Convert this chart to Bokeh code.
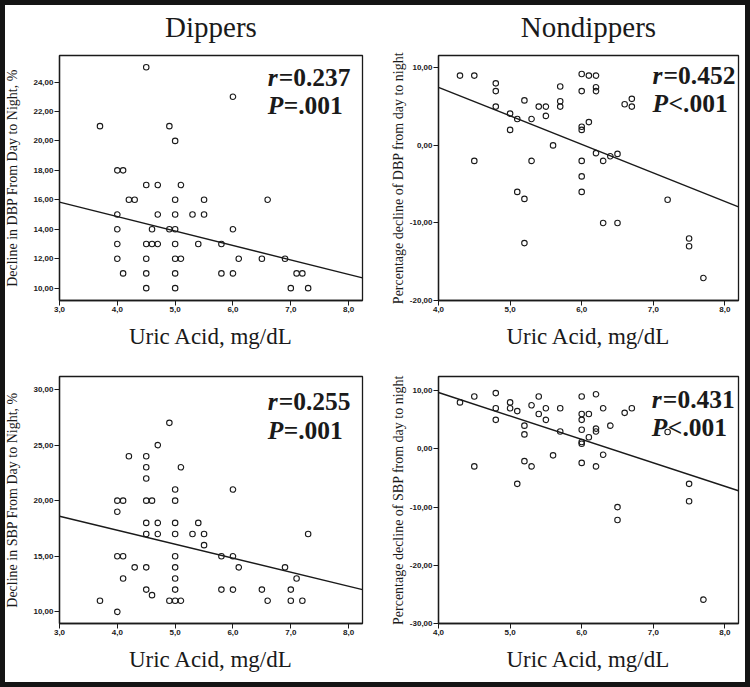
from bokeh.plotting import figure
from bokeh.layouts import gridplot
from bokeh.models import Range1d, FixedTicker, CustomJSTickFormatter, Label, Title
from bokeh.embed import file_html
from bokeh.resources import INLINE

# ---------------- data ----------------
col_titles = ["Dippers", "Nondippers"]
x_title = "Uric Acid, mg/dL"

# Dippers, DBP decline
dip_dbp_ua = [4.5, 6.0, 3.7, 4.9, 5.0, 4.0, 4.1, 4.5, 4.7, 5.1, 4.2, 4.3, 5.0, 5.5, 6.6,
              4.0, 4.7, 5.0, 5.3, 5.5, 4.0, 4.6, 4.9, 5.0, 6.0, 4.0, 4.5, 4.6, 4.7, 5.0,
              5.4, 5.8, 4.0, 4.5, 5.0, 5.1, 6.1, 6.5, 6.9, 4.1, 4.5, 5.0, 5.8, 6.0, 7.1,
              7.2, 4.5, 5.0, 7.0, 7.3]
dip_dbp = [25, 23, 21, 21, 20, 18, 18, 17, 17, 17, 16, 16, 16, 16, 16,
           15, 15, 15, 15, 15, 14, 14, 14, 14, 14, 13, 13, 13, 13, 13,
           13, 13, 12, 12, 12, 12, 12, 12, 12, 11, 11, 11, 11, 11, 11,
           11, 10, 10, 10, 10]

# Nondippers, DBP decline
non_dbp_ua = [4.3, 4.5, 4.5, 4.8, 4.8, 4.8, 5.0, 5.1, 5.0, 5.2, 5.3, 5.4, 5.5, 5.5, 5.7,
              5.7, 5.7, 5.6, 5.3, 5.1, 5.2, 5.2, 6.0, 6.1, 6.2, 6.0, 6.2, 6.2, 6.0, 6.0,
              6.1, 6.0, 6.0, 6.0, 6.2, 6.3, 6.4, 6.5, 6.3, 6.5, 6.6, 6.7, 6.7, 7.2, 7.5,
              7.5, 7.7]
non_dbp = [9.0, 9.0, -2.0, 8.0, 7.0, 5.0, 4.1, 3.4, 2.0, 5.8, 3.4, 5.0, 5.0, 3.8, 7.6,
           5.7, 5.0, 0.0, -2.0, -6.0, -6.9, -12.6, 9.2, 9.0, 9.0, 7.0, 7.5, 7.0, 2.4, 2.0,
           3.0, -2.0, -4.0, -6.0, -1.0, -2.0, -1.4, -1.1, -10.0, -10.0, 5.3, 6.0, 5.0, -7.0, -12.0,
           -13.0, -17.1]

# Dippers, SBP decline
dip_sbp_ua = [4.9, 4.7, 4.2, 4.5, 4.5, 5.1, 4.5, 5.0, 6.0, 4.0, 4.1, 4.5, 4.6, 5.0, 4.0,
              4.5, 4.7, 5.0, 5.4, 4.5, 4.7, 5.0, 5.3, 5.5, 7.3, 5.5, 4.0, 4.1, 5.0, 5.8,
              6.0, 4.3, 4.5, 5.0, 6.1, 6.9, 4.1, 5.0, 7.1, 4.5, 5.0, 5.8, 6.0, 6.5, 7.0,
              4.6, 3.7, 4.9, 5.0, 5.1, 6.6, 7.0, 7.2, 4.0]
dip_sbp = [27, 25, 24, 24, 23, 23, 22, 21, 21, 20, 20, 20, 20, 20, 19,
           18, 18, 18, 18, 17, 17, 17, 17, 17, 17, 16, 15, 15, 15, 15,
           15, 14, 14, 14, 14, 14, 13, 13, 13, 12, 12, 12, 12, 12, 12,
           11.5, 11, 11, 11, 11, 11, 11, 11, 10]

# Nondippers, SBP decline
non_sbp_ua = [4.3, 4.5, 4.5, 4.8, 4.8, 4.8, 5.0, 5.0, 5.1, 5.2, 5.2, 5.2, 5.1, 5.3, 5.3,
              5.4, 5.4, 5.5, 5.5, 5.6, 5.7, 5.7, 6.0, 6.0, 6.0, 6.0, 6.0, 6.0, 6.0, 6.1,
              6.1, 6.2, 6.2, 6.2, 6.2, 6.3, 6.3, 6.4, 6.5, 6.5, 6.6, 6.7, 7.2, 7.5, 7.5,
              7.7]
non_sbp = [8.0, 9.0, -3.0, 9.6, 7.0, 5.0, 8.0, 7.0, 6.5, 4.0, 2.5, -2.1, -6.0, 7.5, -3.0,
           9.0, 6.0, 7.0, 5.0, -1.1, 7.0, 3.0, 9.0, 6.0, 5.0, 3.3, 1.2, 0.9, -2.4, 6.0,
           2.0, 9.4, 3.5, 3.0, -3.0, 7.0, -1.0, 4.0, -10.0, -12.2, 6.2, 7.0, 2.9, -6.0, -9.0,
           -25.9]

# fitted regression lines (intercept, slope) as drawn in the figure
fit_dip_dbp = (18.78, -0.981)
fit_non_dbp = (22.21, -3.68)
fit_dip_sbp = (22.38, -1.26)
fit_non_sbp = (25.82, -4.03)

stats_r = ["=0.237", "=0.452", "=0.255", "=0.431"]
stats_p = ["=.001", "<.001", "=.001", "<.001"]

ylabels = ["Decline in DBP From Day to Night, %",
           "Percentage decline of DBP from day to night",
           "Decline in SBP From Day to Night, %",
           "Percentage decline of SBP from day to night"]

xticks_dip = [3, 4, 5, 6, 7, 8]
xticks_non = [4, 5, 6, 7, 8]
yticks = [[10, 12, 14, 16, 18, 20, 22, 24], [-20, -10, 0, 10],
          [10, 15, 20, 25, 30], [-30, -20, -10, 0, 10]]

# ---------------- styling ----------------
INK = "#1a1a1a"
SERIF = "Liberation Serif"
SANS = "Liberation Sans"


def panel(xs, ys, fit, xr, yr, xt, yt, ylab, rtxt, ptxt, lab_x, lab_yr, lab_yp,
          title, w, h, bl, br, bt, bb, ylab_standoff):
    p = figure(width=w, height=h, x_range=Range1d(*xr), y_range=Range1d(*yr),
               output_backend="svg", toolbar_location=None,
               min_border_left=bl, min_border_right=br, min_border_top=bt, min_border_bottom=bb)
    if title:
        # small spacer next to the frame, then the column heading above it
        p.add_layout(Title(text=" ", text_font_size="5px", standoff=0), "above")
        p.add_layout(Title(text=title, text_font=SERIF, text_font_size="29px",
                           text_font_style="normal", text_color=INK, align="center"), "above")
    p.xgrid.visible = False
    p.ygrid.visible = False
    p.background_fill_color = "white"
    p.border_fill_color = None
    p.outline_line_color = INK
    p.outline_line_width = 1.3
    p.outline_line_alpha = 1.0

    p.xaxis.ticker = FixedTicker(ticks=xt)
    p.yaxis.ticker = FixedTicker(ticks=yt)
    p.xaxis.formatter = CustomJSTickFormatter(code="return tick.toFixed(1).replace('.', ',');")
    p.yaxis.formatter = CustomJSTickFormatter(code="return tick.toFixed(2).replace('.', ',');")
    for ax in (p.xaxis[0], p.yaxis[0]):
        ax.axis_line_color = INK
        ax.axis_line_width = 1.3
        ax.major_tick_line_color = INK
        ax.major_tick_line_width = 1
        ax.major_tick_out = 5
        ax.major_tick_in = 0
        ax.minor_tick_line_color = None
        ax.major_label_text_font = SANS
        ax.major_label_text_font_size = "8px"
        ax.major_label_text_font_style = "bold"
        ax.major_label_text_color = INK
        ax.major_label_standoff = 1
        ax.axis_label_text_font = SERIF
        ax.axis_label_text_font_style = "normal"
        ax.axis_label_text_color = INK
    p.xaxis.axis_label = x_title
    p.xaxis.axis_label_text_font_size = "23px"
    p.xaxis.axis_label_standoff = 9
    p.yaxis.axis_label = ylab
    p.yaxis.axis_label_text_font_size = "14px"
    p.yaxis.axis_label_standoff = ylab_standoff

    x0, x1 = xr
    b0, b1 = fit
    p.line([x0, x1], [b0 + b1 * x0, b0 + b1 * x1], line_color=INK, line_width=1.4)
    p.scatter(xs, ys, marker="circle", size=5.5, fill_color=None, line_color=INK, line_width=1.1)

    common = dict(text_font=SERIF, text_font_size="25.5px", text_color=INK, text_baseline="alphabetic")
    p.add_layout(Label(x=lab_x, y=lab_yr, text="r", text_font_style="bold italic", **common))
    p.add_layout(Label(x=lab_x, y=lab_yr, x_offset=11, text=rtxt, text_font_style="bold", **common))
    p.add_layout(Label(x=lab_x, y=lab_yp, text="P", text_font_style="bold italic", **common))
    p.add_layout(Label(x=lab_x, y=lab_yp, x_offset=16, text=ptxt, text_font_style="bold", **common))
    return p


p1 = panel(dip_dbp_ua, dip_dbp, fit_dip_dbp, (3.0, 8.24), (9.16, 25.80), xticks_dip, yticks[0],
           ylabels[0], stats_r[0], stats_p[0], 6.6, 24.31, 22.41, col_titles[0],
           375, 352, 59, 13, 55, 52, 10)
p2 = panel(non_dbp_ua, non_dbp, fit_non_dbp, (4.0, 8.19), (-20.0, 11.59), xticks_non, yticks[1],
           ylabels[1], stats_r[1], stats_p[1], 6.99, 9.04, 5.34, col_titles[1],
           375, 352, 63, 12, 55, 52, 1)
p3 = panel(dip_sbp_ua, dip_sbp, fit_dip_sbp, (3.0, 8.24), (8.95, 31.17), xticks_dip, yticks[2],
           ylabels[2], stats_r[2], stats_p[2], 6.6, 28.95, 26.31, None,
           375, 335, 59, 13, 24, 64, 10)
p4 = panel(non_sbp_ua, non_sbp, fit_non_sbp, (4.0, 8.19), (-30.0, 12.45), xticks_non, yticks[3],
           ylabels[3], stats_r[3], stats_p[3], 6.98, 8.46, 3.6, None,
           375, 335, 63, 12, 24, 64, 1)

grid = gridplot([[p1, p2], [p3, p4]], toolbar_location=None)
grid.styles = {"box-shadow": "inset 0 0 0 5px #141414",
               "outline": "5px solid #141414", "outline-offset": "-5px"}

open("out.html", "w").write(file_html(grid, INLINE))
